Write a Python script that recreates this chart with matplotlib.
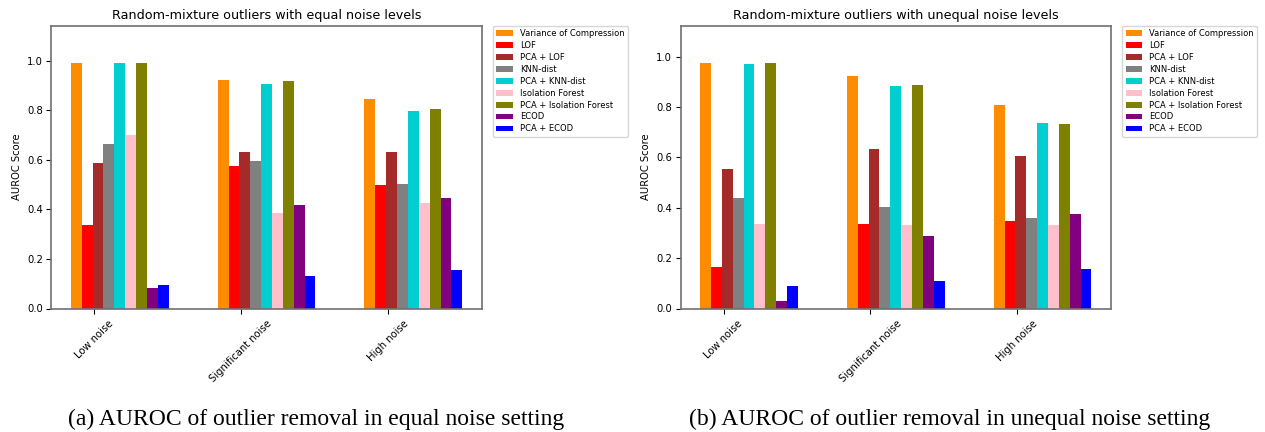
import numpy as np
import matplotlib
matplotlib.use("Agg")
import matplotlib.pyplot as plt

categories = ["Low noise", "Significant noise", "High noise"]
methods = ["Variance of Compression", "LOF", "PCA + LOF", "KNN-dist", "PCA + KNN-dist",
           "Isolation Forest", "PCA + Isolation Forest", "ECOD", "PCA + ECOD"]
colors = ["darkorange", "red", "brown", "gray", "darkturquoise", "pink", "olive", "purple", "blue"]

# rows: methods, columns: categories
equal_scores = [
    [0.993, 0.922, 0.844],
    [0.337, 0.575, 0.500],
    [0.589, 0.630, 0.633],
    [0.666, 0.595, 0.503],
    [0.990, 0.906, 0.797],
    [0.700, 0.385, 0.425],
    [0.993, 0.918, 0.804],
    [0.081, 0.416, 0.447],
    [0.093, 0.133, 0.157],
]
unequal_scores = [
    [0.977, 0.922, 0.808],
    [0.165, 0.335, 0.347],
    [0.556, 0.634, 0.605],
    [0.439, 0.403, 0.359],
    [0.971, 0.882, 0.738],
    [0.336, 0.331, 0.331],
    [0.975, 0.887, 0.732],
    [0.029, 0.290, 0.375],
    [0.090, 0.111, 0.155],
]
titles = ["Random-mixture outliers with equal noise levels",
          "Random-mixture outliers with unequal noise levels"]
captions = ["(a) AUROC of outlier removal in equal noise setting",
            "(b) AUROC of outlier removal in unequal noise setting"]

fig = plt.figure(figsize=(12.65, 4.32), dpi=100)
ax_lefts = [51.3 / 1265, 680.5 / 1265]
ax_w = 430.5 / 1265
ax_b = (432 - 308.5) / 432
ax_h = (308.5 - 25.7) / 432
cap_x = [316 / 1265, 950 / 1265]

width = 0.074
x = np.arange(len(categories))
for k, scores in enumerate([equal_scores, unequal_scores]):
    ax = fig.add_axes([ax_lefts[k], ax_b, ax_w, ax_h])
    for i, (m, c) in enumerate(zip(methods, colors)):
        ax.bar(x - 0.16 + i * width, scores[i], width, align="edge", color=c, label=m)
    ymax = max(max(r) for r in scores)
    ax.set_ylim(0, ymax * 1.15)
    ax.set_xticks(x)
    ax.set_xticklabels(categories, rotation=45, fontsize=7.2)
    ax.tick_params(axis="y", labelsize=7.2, length=3.5, width=0.8, pad=2.5)
    ax.tick_params(axis="x", length=3.5, width=0.8)
    ax.set_ylabel("AUROC Score", fontsize=7.2, labelpad=4)
    ax.set_title(titles[k], fontsize=9.2, pad=5)
    for s in ax.spines.values():
        s.set_color("#707070")
        s.set_linewidth(1.2)
    ax.legend(loc="upper left", bbox_to_anchor=(1.026, 1.0), borderaxespad=0,
              fontsize=6.0, labelspacing=0.35, fancybox=True)
    fig.text(cap_x[k], 0.017, captions[k], ha="center", va="baseline",
             fontsize=17, family="Liberation Serif")

fig.savefig("out.png", dpi=100)
